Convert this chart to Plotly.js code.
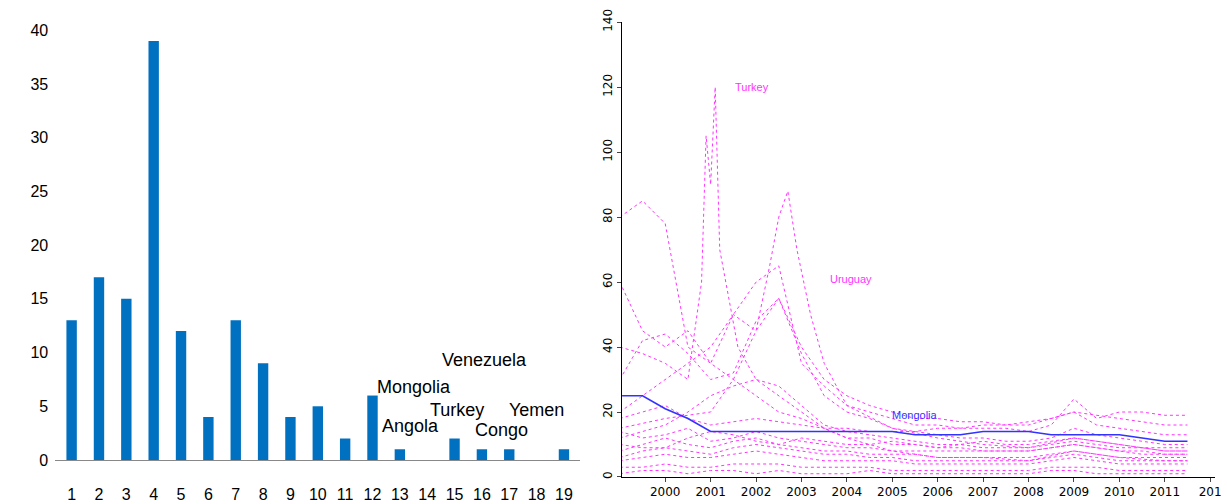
<!DOCTYPE html>
<html><head><meta charset="utf-8">
<script src="https://cdn.plot.ly/plotly-3.0.1.min.js"></script>
<style>body{margin:0;background:#fff}#chart{width:1227px;height:504px}</style>
</head><body><div id="chart"></div>
<script>
// left panel: count per category
const cats = [1,2,3,4,5,6,7,8,9,10,11,12,13,14,15,16,17,18,19];
const counts = [13,17,15,39,12,4,13,9,4,5,2,6,1,0,2,1,1,0,1];
const countryLabels = ['Venezuela','Mongolia','Angola','Turkey','Congo','Yemen'];
const labelCat = [16.1,13.5,13.4,15.1,16.7,18.0];
const labelY = [9.3,6.8,3.2,4.65,2.8,4.65];

// right panel: hand-read series (year, value)
const yrs = [1999,1999.5,2000,2000.5,2001,2001.5,2002,2002.5,2003,2003.5,2004,2004.5,2005,2005.5,2006,2006.5,2007,2007.5,2008,2008.5,2009,2009.5,2010,2010.5,2011,2011.5];
const mongolia = [25,25,21,18,14,14,14,14,14,14,14,14,14,13,13,13,14,14,14,13,13,13,13,12,11,11];
const turkeyX = [1999,1999.5,2000,2000.5,2000.8,2000.9,2001,2001.1,2001.2,2001.4,2001.6,2002,2002.5,2003,2003.5,2004,2005,2006,2007,2008,2009,2010,2011,2011.5];
const turkeyY = [40,38,35,30,60,105,90,120,70,55,40,30,25,20,15,12,8,6,6,5,8,6,5,5];
const uruguayX = [1999,2000,2001,2001.5,2002,2002.3,2002.5,2002.7,2002.9,2003.2,2003.5,2004,2005,2006,2007,2008,2009,2010,2011,2011.5];
const uruguayY = [15,18,20,30,45,65,80,88,70,50,35,22,15,12,10,9,12,10,8,8];
const seriesA = [80,85,78,40,35,30,25,20,18,15,12,12,10,10,9,9,8,8,8,9,10,9,8,8,7,7];
const seriesB = [60,45,40,45,35,50,60,65,35,28,22,20,18,16,16,15,15,15,14,16,24,18,20,20,19,19];
const seriesC = [30,42,44,38,30,32,48,55,40,30,25,22,20,18,18,17,17,16,16,18,20,16,15,14,13,13];
const seriesD = [20,25,30,35,40,50,45,55,38,25,20,18,15,14,13,12,12,11,11,12,15,13,12,11,10,10];
const seriesE = [12,14,16,20,25,28,30,28,22,16,14,13,12,11,10,10,9,9,9,10,11,10,9,9,8,8];
const seriesF = [8,10,12,10,9,11,12,10,9,8,8,7,7,7,6,6,6,6,6,7,8,7,6,6,6,6];
const seriesG = [5,6,7,6,6,7,8,7,6,5,5,5,5,4,4,4,4,4,4,5,6,5,4,4,4,4];
const seriesH = [3,3,4,3,3,4,4,4,3,3,3,3,2,2,2,2,2,2,2,3,3,3,2,2,2,2];
const seriesI = [18,20,22,18,16,17,18,17,16,15,15,14,14,14,15,15,16,16,17,18,20,19,18,17,16,16];
const seriesJ = [10,9,9,12,14,13,11,10,12,11,10,10,11,10,9,10,11,10,10,11,12,11,10,9,9,9];
const seriesK = [1,2,2,1,2,2,1,2,1,1,1,2,1,1,1,1,1,1,1,2,2,1,1,1,1,1];
const seriesL = [6,8,9,8,7,9,10,9,8,7,7,6,6,5,5,5,5,5,5,6,7,6,5,5,5,5];
const seriesM = [14,12,13,15,11,12,14,12,11,10,9,9,8,8,8,8,8,8,8,9,10,9,8,7,7,7];

const pink = '#ff33ff';
const dotted = [seriesA,seriesB,seriesC,seriesD,seriesE,seriesF,seriesG,seriesH,seriesI,seriesJ,seriesK,seriesL,seriesM];

const traces = [{
  x: cats, y: counts, type: 'bar', marker: { color: '#0070c0' }, width: 0.38,
  xaxis: 'x', yaxis: 'y', hoverinfo: 'skip',
}];
dotted.forEach((s) => traces.push({
  x: yrs, y: s, type: 'scatter', mode: 'lines', xaxis: 'x2', yaxis: 'y2',
  line: { color: pink, width: 1, dash: 'dot' },
}));
traces.push({ x: turkeyX, y: turkeyY, type: 'scatter', mode: 'lines', xaxis: 'x2', yaxis: 'y2', line: { color: pink, width: 1, dash: 'dot' } });
traces.push({ x: uruguayX, y: uruguayY, type: 'scatter', mode: 'lines', xaxis: 'x2', yaxis: 'y2', line: { color: pink, width: 1, dash: 'dot' } });
traces.push({ x: yrs, y: mongolia, type: 'scatter', mode: 'lines', xaxis: 'x2', yaxis: 'y2', line: { color: '#3333ff', width: 1.6 } });

const annotations = countryLabels.map((t, i) => ({
  text: t, x: labelCat[i], y: labelY[i], xref: 'x', yref: 'y', showarrow: false,
  font: { size: 18, color: '#000', family: 'Liberation Sans, sans-serif' },
}));
annotations.push(
  { text: 'Turkey', x: 2001.9, y: 120, xref: 'x2', yref: 'y2', showarrow: false, font: { size: 11, color: pink } },
  { text: 'Uruguay', x: 2004.1, y: 61, xref: 'x2', yref: 'y2', showarrow: false, font: { size: 11, color: pink } },
  { text: 'Mongolia', x: 2005.5, y: 19, xref: 'x2', yref: 'y2', showarrow: false, font: { size: 11, color: '#3333ff' } },
);

const layout = {
  width: 1227, height: 504, margin: { l: 0, r: 0, t: 0, b: 0 },
  showlegend: false, paper_bgcolor: '#fff', plot_bgcolor: '#fff',
  font: { family: 'Liberation Sans, sans-serif', color: '#000' },
  annotations,
  xaxis: {
    domain: [0.045, 0.473], range: [0.4, 19.6], tickvals: cats, showgrid: false,
    showline: true, linecolor: '#888', ticks: '', ticklabelstandoff: 20,
    tickfont: { size: 16 }, zeroline: false,
  },
  yaxis: {
    domain: [0.0873, 0.940], range: [0, 40], dtick: 5, showgrid: false,
    showline: false, zeroline: false, tickfont: { size: 16 }, ticklabelstandoff: 6,
  },
  xaxis2: {
    anchor: 'y2', domain: [0.507, 0.99], range: [1999.05, 2012.1], tickvals: [2000,2001,2002,2003,2004,2005,2006,2007,2008,2009,2010,2011,2012],
    ticktext: ['2000','2001','2002','2003','2004','2005','2006','2007','2008','2009','2010','2011','201'],
    showgrid: false, showline: true, linecolor: '#000', ticks: 'outside', ticklen: 4,
    tickfont: { size: 12, family: 'DejaVu Sans' }, zeroline: false,
  },
  yaxis2: {
    anchor: 'x2', domain: [0.0536, 0.956], range: [0, 140], dtick: 20, showgrid: false,
    showline: true, linecolor: '#000', ticks: 'outside', ticklen: 4, tickangle: -90,
    tickfont: { size: 12, family: 'DejaVu Sans' }, zeroline: false,
  },
};
Plotly.newPlot('chart', traces, layout, { displayModeBar: false, staticPlot: true });
</script></body></html>
